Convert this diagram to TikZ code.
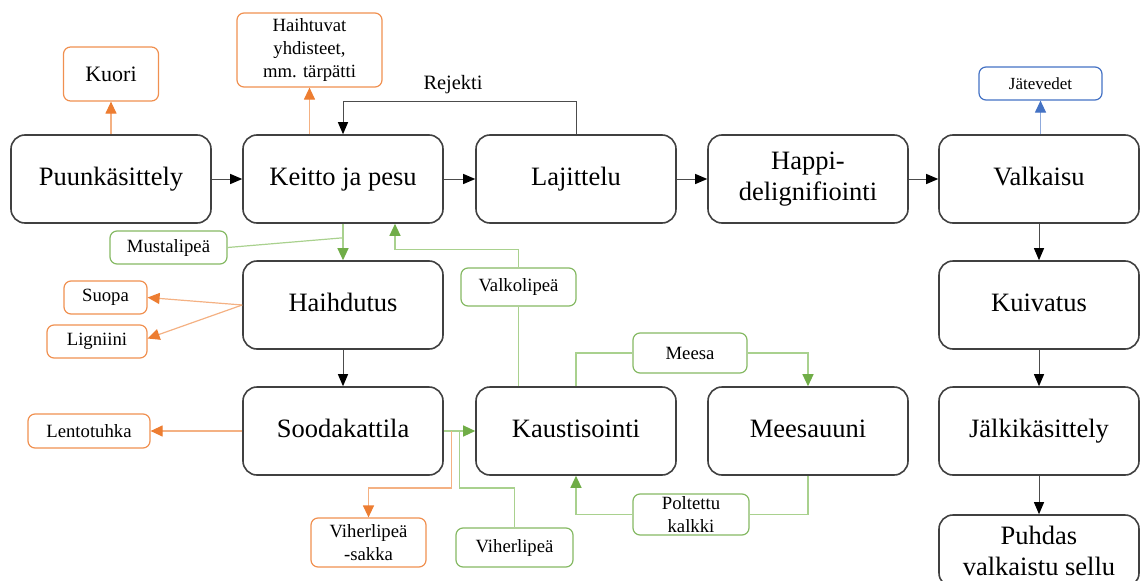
\documentclass[tikz,border=0pt]{standalone}
\usepackage{fontspec}
\setmainfont{Liberation Serif}
\usetikzlibrary{arrows.meta,calc}

\definecolor{orgD}{HTML}{ED7D31}
\definecolor{orgL}{HTML}{F4B183}
\definecolor{grnD}{HTML}{70AD47}
\definecolor{grnL}{HTML}{A9D18E}
\definecolor{bluD}{HTML}{4472C4}
\definecolor{bluL}{HTML}{8FAADC}
\definecolor{boxline}{HTML}{404040}

\begin{document}
\begin{tikzpicture}[x=1pt, y=-1pt,
  block/.style={draw=boxline, line width=1.6pt, rounded corners=14pt, minimum width=200pt, minimum height=88pt, align=center, inner sep=0pt, font=\fontsize{26.5}{31}\selectfont},
  small/.style={line width=1.2pt, rounded corners=7pt, align=center, inner sep=0pt, font=\fontsize{18.7}{23}\selectfont},
  obox/.style={small, draw=orgD!85},
  gbox/.style={small, draw=grnD!85},
  bbox/.style={small, draw=bluD},
  arrow/.style={draw=black!70, line width=1pt, -{Triangle[length=12pt,width=10pt,color=black]}},
  oarrow/.style={draw=orgL, line width=1.2pt, -{Triangle[length=12pt,width=11pt,color=orgD]}},
  garrow/.style={draw=grnL, line width=1.2pt, -{Triangle[length=12pt,width=11pt,color=grnD]}},
  barrow/.style={draw=bluL, line width=1.2pt, -{Triangle[length=12pt,width=11pt,color=bluD]}},
  gline/.style={draw=grnL, line width=1.2pt}
]
\clip (0,0) rectangle (1141,581);

% main process row
\node[block] (puu) at (111,179) {\strut Puunkäsittely};
\node[block] (keitto) at (343,179) {\strut Keitto ja pesu};
\node[block] (lajittelu) at (576,179) {\strut Lajittelu};
\node[block] (happi) at (808,179) {Happi-\\delignifiointi};
\node[block] (valkaisu) at (1039,179) {\strut Valkaisu};

% chemical recovery
\node[block] (haihdutus) at (343,305) {\strut Haihdutus};
\node[block] (sooda) at (343,431) {\strut Soodakattila};
\node[block] (kaustis) at (576,431) {\strut Kaustisointi};
\node[block] (meesauuni) at (808,431) {\strut Meesauuni};

% finishing
\node[block] (kuivatus) at (1039,305) {\strut Kuivatus};
\node[block] (jalki) at (1039,431) {\strut Jälkikäsittely};
\node[block, minimum height=72pt] (puhdas) at (1039,551) {Puhdas\\valkaistu sellu};

% side streams
\node[obox, minimum width=95pt, minimum height=54pt, font=\fontsize{22}{26}\selectfont] (kuori) at (111,74) {Kuori};
\node[obox, minimum width=145pt, minimum height=74pt] (haiht) at (309.5,50) {Haihtuvat\\yhdisteet,\\mm. tärpätti};
\node[bbox, minimum width=123pt, minimum height=33pt, font=\fontsize{17}{20}\selectfont] (jatevedet) at (1040.5,83.5) {Jätevedet};
\node[gbox, minimum width=117pt, minimum height=33pt] (musta) at (168.5,247.5) {Mustalipeä};
\node[obox, minimum width=83pt, minimum height=33pt] (suopa) at (105.5,297.5) {Suopa};
\node[obox, minimum width=100pt, minimum height=33pt] (ligniini) at (97,341.5) {Ligniini};
\node[gbox, minimum width=115pt, minimum height=38pt] (valkoli) at (518.5,287) {Valkolipeä};
\node[gbox, minimum width=114pt, minimum height=40pt] (meesa) at (690,353) {Meesa};
\node[obox, minimum width=122pt, minimum height=34pt] (lento) at (89,431) {Lentotuhka};
\node[obox, minimum width=115pt, minimum height=49pt] (sakka) at (368.5,542.5) {Viherlipeä\\-sakka};
\node[gbox, minimum width=117pt, minimum height=39pt] (viher) at (514.5,547.5) {Viherlipeä};
\node[gbox, minimum width=116pt, minimum height=41pt] (poltettu) at (691,514.5) {Poltettu\\kalkki};
\node[font=\fontsize{20.4}{24}\selectfont] (rejekti) at (453,85) {Rejekti};

% fibre line
\draw[arrow] (puu) -- (keitto);
\draw[arrow] (keitto) -- (lajittelu);
\draw[arrow] (lajittelu) -- (happi);
\draw[arrow] (happi) -- (valkaisu);
\draw[arrow] (lajittelu.north) -- ++(0,-33) -| (keitto.north);
\draw[arrow] (valkaisu) -- (kuivatus);
\draw[arrow] (kuivatus) -- (jalki);
\draw[arrow] (jalki) -- (puhdas);

% outputs
\draw[oarrow] (puu.north) -- (kuori.south);
\draw[oarrow] (keitto.north -| haiht.south) -- (haiht.south);
\draw[barrow] (valkaisu.north -| jatevedet.south) -- (jatevedet.south);
\draw[oarrow] (haihdutus.west) -- (suopa.east);
\draw[oarrow] (haihdutus.west) -- ($(ligniini.east)+(0,-3)$);
\draw[oarrow] (sooda.west) -- (lento.east);

% liquor cycle
\draw[garrow] (keitto.south) -- (haihdutus.north);
\draw[gline] (musta.east) -- ($(keitto.south)+(0,14)$);
\draw[arrow] (haihdutus) -- (sooda);
\draw[garrow] (sooda.east) -- (kaustis.west);
\draw[oarrow] ($(sooda.east)+(8,0)$) -- ++(0,57) -| (sakka.north);
\draw[gline] ($(sooda.east)+(16,0)$) -- ++(0,57) -| (viher.north);
\draw[gline] (kaustis.north -| valkoli.south) -- (valkoli.south);
\draw[garrow] (valkoli.north) -- ++(0,-18) -| ($(keitto.south)+(52,0)$);
\draw[gline] (kaustis.north) |- (meesa.west);
\draw[garrow] (meesa.east) -| (meesauuni.north);
\draw[gline] (meesauuni.south) |- (poltettu.east);
\draw[garrow] (poltettu.west) -| (kaustis.south);
\end{tikzpicture}
\end{document}
